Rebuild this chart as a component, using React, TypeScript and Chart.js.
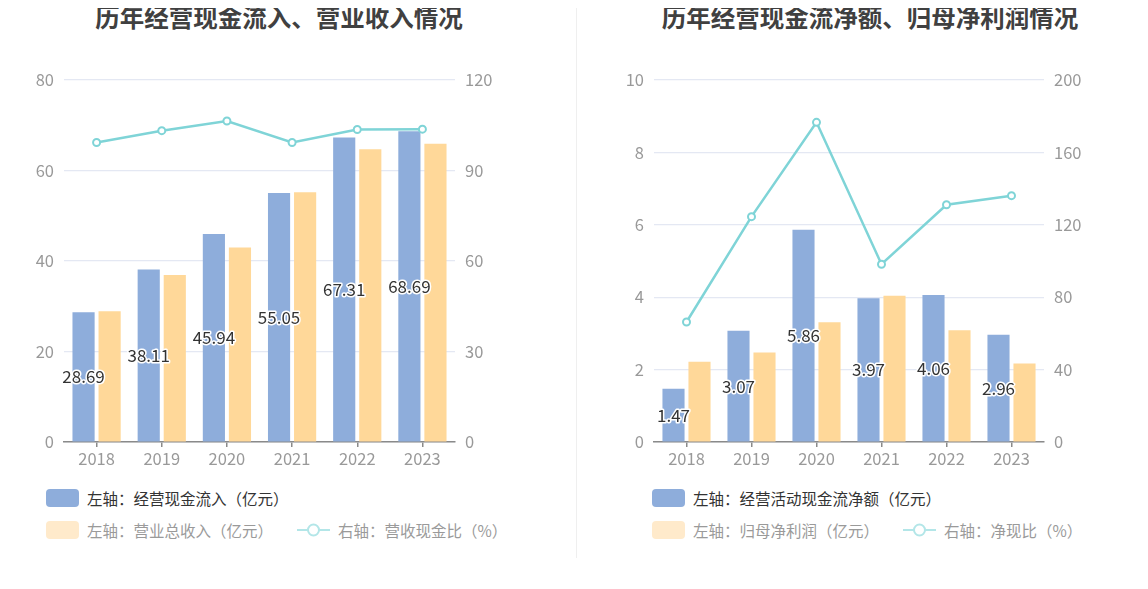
import React, { useEffect, useRef } from "react";
import { Chart, registerables } from "chart.js";

Chart.register(...registerables);

const years = ["2018", "2019", "2020", "2021", "2022", "2023"];

// Left chart
const cashInflow = [28.69, 38.11, 45.94, 55.05, 67.31, 68.69];
const revenue = [28.9, 36.9, 43.0, 55.2, 64.7, 65.9];
const cashRevenueRatio = [99.3, 103.2, 106.4, 99.3, 103.6, 103.7];

// Right chart
const netOperatingCash = [1.47, 3.07, 5.86, 3.97, 4.06, 2.96];
const netProfit = [2.22, 2.47, 3.31, 4.04, 3.09, 2.17];
const netCashRatio = [66.3, 124.5, 176.6, 98.2, 131.1, 136.1];

const leftTitle = "历年经营现金流入、营业收入情况";
const rightTitle = "历年经营现金流净额、归母净利润情况";

const leftLegend = ["左轴：经营现金流入（亿元）", "左轴：营业总收入（亿元）", "右轴：营收现金比（%）"];
const rightLegend = ["左轴：经营活动现金流净额（亿元）", "左轴：归母净利润（亿元）", "右轴：净现比（%）"];

const BLUE = "#8eaddb";
const YELLOW = "#ffd899";
const TEAL = "#7fd4d7";
const FONT = "'Noto Sans CJK SC', 'Noto Sans', sans-serif";

const valueLabelPlugin = {
  id: "valueLabels",
  afterDatasetsDraw(chart: any) {
    const ctx = chart.ctx;
    const meta = chart.getDatasetMeta(0);
    const data = chart.data.datasets[0].data;
    ctx.save();
    ctx.font = `17px ${FONT}`;
    ctx.textAlign = "center";
    ctx.textBaseline = "middle";
    ctx.lineJoin = "round";
    meta.data.forEach((el: any, i: number) => {
      const x = el.x;
      const y = (el.y + el.base) / 2;
      const txt = Number(data[i]).toFixed(2);
      ctx.strokeStyle = "#ffffff";
      ctx.lineWidth = 3;
      ctx.strokeText(txt, x, y);
      ctx.fillStyle = "#333333";
      ctx.fillText(txt, x, y);
    });
    ctx.restore();
  },
};

type PanelProps = {
  bars1: number[];
  bars2: number[];
  line: number[];
  leftMax: number;
  leftStep: number;
  rightMax: number;
  rightStep: number;
  rightAxisWidth: number;
};

function ChartPanel(p: PanelProps) {
  const ref = useRef<HTMLCanvasElement>(null);
  useEffect(() => {
    if (!ref.current) return;
    const chart = new Chart(ref.current, {
      type: "bar",
      data: {
        labels: years,
        datasets: [
          {
            type: "bar",
            data: p.bars1,
            backgroundColor: BLUE,
            yAxisID: "y",
            order: 2,
            categoryPercentage: 0.8,
            barPercentage: 0.85,
          },
          {
            type: "bar",
            data: p.bars2,
            backgroundColor: YELLOW,
            yAxisID: "y",
            order: 2,
            categoryPercentage: 0.8,
            barPercentage: 0.85,
          },
          {
            type: "line",
            data: p.line,
            borderColor: TEAL,
            borderWidth: 2.5,
            pointRadius: 3.5,
            pointBorderWidth: 2,
            pointBackgroundColor: "#ffffff",
            pointBorderColor: TEAL,
            tension: 0,
            yAxisID: "y1",
            order: 0,
          } as any,
        ],
      },
      options: {
        responsive: false,
        animation: false,
        layout: { padding: { top: 20, left: 0, right: 0, bottom: 0 } },
        plugins: {
          legend: { display: false },
          title: { display: false },
          tooltip: { enabled: false },
        },
        scales: {
          x: {
            grid: {
              display: true,
              drawOnChartArea: false,
              drawTicks: true,
              tickLength: 5,
              offset: false,
              color: "#8a8a8a",
              lineWidth: 1.5,
            },
            border: { display: true, color: "#8a8a8a", width: 1.5 },
            ticks: { color: "#999999", font: { size: 16.5, family: FONT }, padding: 2 },
            afterFit: (s: any) => {
              s.height = 38;
            },
          },
          y: {
            position: "left",
            min: 0,
            max: p.leftMax,
            ticks: { stepSize: p.leftStep, color: "#999999", font: { size: 16.5, family: FONT }, padding: 10 },
            grid: { color: "#e4e8f3", lineWidth: 1.2, drawTicks: false },
            border: { display: false },
            afterFit: (s: any) => {
              s.width = 56;
            },
          },
          y1: {
            position: "right",
            min: 0,
            max: p.rightMax,
            ticks: { stepSize: p.rightStep, color: "#999999", font: { size: 16.5, family: FONT }, padding: 10 },
            grid: { display: false, drawTicks: false },
            border: { display: false },
            afterFit: (s: any) => {
              s.width = p.rightAxisWidth;
            },
          },
        },
      } as any,
      plugins: [valueLabelPlugin],
    });
    return () => chart.destroy();
  }, []);
  return <canvas ref={ref} width={540} height={420} style={{ display: "block" }} />;
}

function LegendBox({ color }: { color: string }) {
  return (
    <span
      style={{
        display: "inline-block",
        width: 33,
        height: 18,
        borderRadius: 4,
        background: color,
        marginRight: 8,
        flex: "none",
      }}
    />
  );
}

function LegendLine({ color }: { color: string }) {
  return (
    <svg width={33} height={16} style={{ marginRight: 8, flex: "none" }}>
      <line x1={0} y1={8} x2={33} y2={8} stroke={color} strokeWidth={2} />
      <circle cx={16.5} cy={8} r={5.5} fill="#ffffff" stroke={color} strokeWidth={2} />
    </svg>
  );
}

function Legend({ labels, left }: { labels: string[]; left: number }) {
  const rowStyle: React.CSSProperties = {
    position: "absolute",
    left,
    display: "flex",
    alignItems: "center",
    height: 20,
    fontFamily: FONT,
    fontSize: 15.5,
    whiteSpace: "nowrap",
  };
  return (
    <>
      <div style={{ ...rowStyle, top: 480, color: "#333333" }}>
        <LegendBox color={BLUE} />
        <span>{labels[0]}</span>
      </div>
      <div style={{ ...rowStyle, top: 512, color: "#9a9a9a" }}>
        <LegendBox color="#ffeacb" />
        <span style={{ marginRight: 24 }}>{labels[1]}</span>
        <LegendLine color="#b3e6e8" />
        <span>{labels[2]}</span>
      </div>
    </>
  );
}

function Title({ text, center }: { text: string; center: number }) {
  return (
    <div
      style={{
        position: "absolute",
        left: center - 300,
        width: 600,
        top: -3,
        textAlign: "center",
        fontFamily: FONT,
        fontWeight: 700,
        fontSize: 24.5,
        lineHeight: "24px",
        color: "#404040",
        whiteSpace: "nowrap",
      }}
    >
      {text}
    </div>
  );
}

export default function App() {
  return (
    <div style={{ position: "relative", width: 1132, height: 560 }}>
      <Title text={leftTitle} center={271} />
      <Title text={rightTitle} center={862} />
      <div style={{ position: "absolute", left: 0, top: 52 }}>
        <ChartPanel
          bars1={cashInflow}
          bars2={revenue}
          line={cashRevenueRatio}
          leftMax={80}
          leftStep={20}
          rightMax={120}
          rightStep={30}
          rightAxisWidth={93}
        />
      </div>
      <div style={{ position: "absolute", left: 590, top: 52 }}>
        <ChartPanel
          bars1={netOperatingCash}
          bars2={netProfit}
          line={netCashRatio}
          leftMax={10}
          leftStep={2}
          rightMax={200}
          rightStep={40}
          rightAxisWidth={94}
        />
      </div>
      <div
        style={{ position: "absolute", left: 568, top: -8, width: 1, height: 558, background: "#efefef" }}
      />
      <Legend labels={leftLegend} left={38} />
      <Legend labels={rightLegend} left={644} />
    </div>
  );
}
